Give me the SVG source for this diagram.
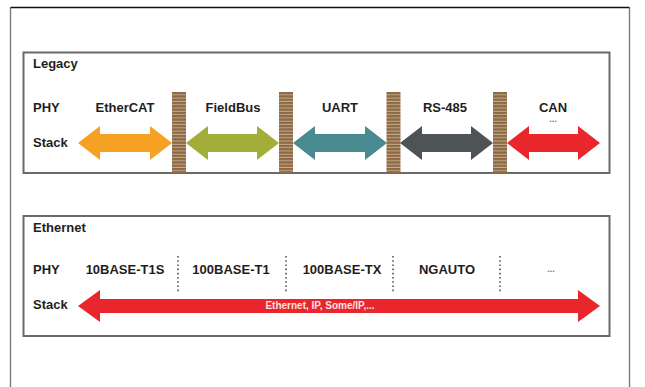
<svg xmlns="http://www.w3.org/2000/svg" width="645" height="387" viewBox="0 0 645 387">
<style>
.lbl{font-family:"Liberation Sans",Arial,sans-serif;font-weight:bold;font-size:13px;fill:#1e1e1e}
.mid{text-anchor:middle}
.dots{font-family:"Liberation Sans",Arial,sans-serif;font-weight:bold;font-size:9px;fill:#777;text-anchor:middle}
.box{fill:#fff;stroke:#6a6a6a;stroke-width:2}
.sep{fill:url(#brick)}
.div{stroke:#555;stroke-width:1.6;stroke-dasharray:1.6,2.6}
.inner{font-family:"Liberation Sans",Arial,sans-serif;font-weight:bold;font-size:10px;fill:#fbe3e3;text-anchor:middle}
</style>
<defs>
<pattern id="brick" width="14" height="3.3" patternUnits="userSpaceOnUse" y="92">
<rect width="14" height="3.3" fill="#8d6944"/>
<rect y="2.3" width="14" height="1" fill="#c2ab8e"/>
</pattern>
</defs>
<rect width="645" height="387" fill="#fff"/>
<g id="frame">
<path d="M10.5,387 V7.5 M629.5,7.5 V387" stroke="#7a7a7a" stroke-width="1.4" fill="none"/>
<path d="M10.5,7.5 H629.5" stroke="#111" stroke-width="1.4"/>
</g>
<g id="legacy">
<rect class="box" x="23.5" y="52.5" width="586" height="120.5"/>
<text class="lbl" x="33" y="68">Legacy</text>
<text class="lbl" x="33" y="112">PHY</text>
<text class="lbl" x="33" y="147">Stack</text>
</g>
<g id="legacy-ethercat"><text class="lbl mid" x="125" y="112">EtherCAT</text></g>
<g id="legacy-fieldbus"><text class="lbl mid" x="233" y="112">FieldBus</text></g>
<g id="legacy-uart"><text class="lbl mid" x="340" y="112">UART</text></g>
<g id="legacy-rs485"><text class="lbl mid" x="445" y="112">RS-485</text></g>
<g id="legacy-can"><text class="lbl mid" x="553" y="112">CAN</text><text class="dots" x="553" y="122">...</text></g>
<g id="separators">
<rect class="sep" x="172" y="92" width="14" height="81"/>
<rect class="sep" x="279" y="92" width="14" height="81"/>
<rect class="sep" x="386.5" y="92" width="14" height="81"/>
<rect class="sep" x="493" y="92" width="14" height="81"/>
</g>
<g id="ethernet">
<rect class="box" x="23.5" y="216" width="586" height="120"/>
<text class="lbl" x="33" y="232">Ethernet</text>
<text class="lbl" x="33" y="274">PHY</text>
<text class="lbl" x="33" y="309">Stack</text>
</g>
<g id="eth-10base-t1s"><text class="lbl mid" x="125" y="274">10BASE-T1S</text></g>
<g id="eth-100base-t1"><text class="lbl mid" x="231" y="274">100BASE-T1</text></g>
<g id="eth-100base-tx"><text class="lbl mid" x="342" y="274">100BASE-TX</text></g>
<g id="eth-ngauto"><text class="lbl mid" x="447" y="274">NGAUTO</text></g>
<g id="eth-more"><text class="dots" x="551" y="272">...</text></g>
<g id="dividers">
<line class="div" x1="178" y1="256" x2="178" y2="292"/>
<line class="div" x1="286" y1="256" x2="286" y2="292"/>
<line class="div" x1="393" y1="256" x2="393" y2="292"/>
<line class="div" x1="500" y1="256" x2="500" y2="292"/>
</g>
<g id="connectors">
<polygon fill="#f6a024" points="78,143 100,126 100,134 150,134 150,126 172,143 150,160 150,152 100,152 100,160"/>
<polygon fill="#a2ad3a" points="186,143 208,126 208,134 257,134 257,126 279,143 257,160 257,152 208,152 208,160"/>
<polygon fill="#4a8b92" points="293,143 315,126 315,134 365,134 365,126 387,143 365,160 365,152 315,152 315,160"/>
<polygon fill="#4e5356" points="400,143 422,126 422,134 471,134 471,126 493,143 471,160 471,152 422,152 422,160"/>
<polygon fill="#e8262b" points="507,143 529,126 529,134 578,134 578,126 600,143 578,160 578,152 529,152 529,160"/>
<polygon fill="#e8262b" points="78,306 100,290 100,299 578,299 578,290 600,306 578,322 578,313 100,313 100,322"/>
<text class="inner" x="320" y="308.5">Ethernet, IP, Some/IP,...</text>
</g>
</svg>
